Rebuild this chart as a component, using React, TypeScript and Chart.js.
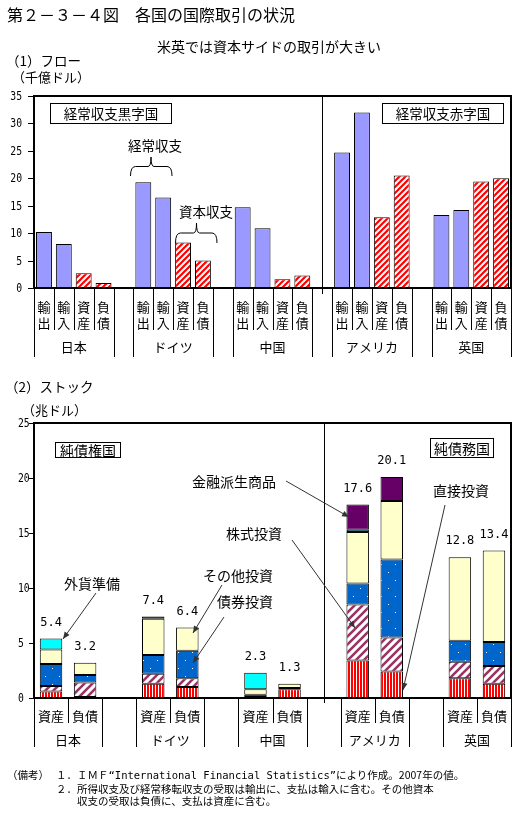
import React, { useEffect, useRef } from 'react';
import { Chart, registerables } from 'chart.js';
Chart.register(...registerables);

const W = 519;
const H = 823;
const JP = '"Noto Sans CJK JP", sans-serif';
const MONO = '"DejaVu Sans Mono", monospace';

// ---------- (1) Flow (千億ドル) ----------
const countries = ['日本', 'ドイツ', '中国', 'アメリカ', '英国'];
const flowItemChars = [['輸', '出'], ['輸', '入'], ['資', '産'], ['負', '債']];
const flowExports = [10.2, 19.3, 14.7, 24.7, 13.3];
const flowImports = [8.0, 16.5, 10.9, 32.0, 14.2];
const flowAssets = [2.7, 8.3, 1.6, 12.9, 19.4];
const flowLiabilities = [0.9, 5.0, 2.3, 20.5, 20.0];
const flowTicks = [0, 5, 10, 15, 20, 25, 30, 35];

// ---------- (2) Stock (兆ドル) ----------
const stockItems = ['資産', '負債'];
// order: 日本資産, 日本負債, ドイツ資産, ドイツ負債, 中国資産, 中国負債, アメリカ資産, アメリカ負債, 英国資産, 英国負債
const directInvestment = [0.6, 0.1, 1.3, 1.0, 0.1, 0.8, 3.4, 2.4, 1.8, 1.3];
const equityInvestment = [0.5, 1.3, 0.9, 0.8, 0.0, 0.1, 5.1, 3.1, 1.5, 1.6];
const bondInvestment = [2.0, 0.7, 1.7, 2.5, 0.2, 0.0, 1.9, 7.1, 1.9, 2.2];
const otherInvestment = [1.3, 1.1, 3.3, 2.1, 0.5, 0.4, 4.7, 5.3, 7.6, 8.3];
const reserveAssets = [1.0, 0, 0, 0, 1.5, 0, 0.2, 0, 0, 0];
const derivatives = [0, 0, 0.2, 0, 0, 0, 2.3, 2.2, 0, 0];
const stockTicks = [0, 5, 10, 15, 20, 25];

// ---------- build category tables ----------
const flowLabels: string[] = [];
const flowValues: (number | null)[] = [];
const flowKinds: number[] = [];
countries.forEach((c, i) => {
  const vals = [flowExports[i], flowImports[i], flowAssets[i], flowLiabilities[i]];
  vals.forEach((v, k) => {
    flowLabels.push(c + flowItemChars[k].join(''));
    flowValues.push(v);
    flowKinds.push(k);
  });
  if (i < countries.length - 1) {
    flowLabels.push('');
    flowValues.push(null);
    flowKinds.push(-1);
  }
});

const stockLabels: string[] = [];
const stockIndex: number[] = []; // index into the stock arrays, -1 = gap
countries.forEach((c, i) => {
  stockItems.forEach((it, k) => {
    stockLabels.push(c + it);
    stockIndex.push(i * 2 + k);
  });
  if (i < countries.length - 1) {
    stockLabels.push('');
    stockIndex.push(-1);
  }
});
const spread = (arr: number[]) => stockIndex.map((j) => (j < 0 || !arr[j] ? null : arr[j]));

// ---------- drawing helpers ----------
function seg(ctx: any, x1: number, y1: number, x2: number, y2: number, w = 1, color = '#000') {
  ctx.beginPath();
  ctx.lineWidth = w;
  ctx.strokeStyle = color;
  ctx.moveTo(x1, y1);
  ctx.lineTo(x2, y2);
  ctx.stroke();
}
function txt(ctx: any, s: string, x: number, y: number, font: string, align = 'center', sx = 1) {
  ctx.save();
  ctx.font = font;
  ctx.textAlign = align;
  ctx.textBaseline = 'middle';
  ctx.fillStyle = '#000';
  ctx.translate(x, y);
  ctx.scale(sx, 1);
  ctx.fillText(s, 0, 0);
  ctx.restore();
}
function arrow(ctx: any, x1: number, y1: number, x2: number, y2: number) {
  const col = '#333';
  seg(ctx, x1, y1, x2, y2, 1, col);
  const a = Math.atan2(y2 - y1, x2 - x1);
  const L = 7;
  const Wd = 3;
  ctx.beginPath();
  ctx.fillStyle = col;
  ctx.moveTo(x2, y2);
  ctx.lineTo(x2 - L * Math.cos(a) + Wd * Math.sin(a), y2 - L * Math.sin(a) - Wd * Math.cos(a));
  ctx.lineTo(x2 - L * Math.cos(a) - Wd * Math.sin(a), y2 - L * Math.sin(a) + Wd * Math.cos(a));
  ctx.closePath();
  ctx.fill();
}
function boxText(ctx: any, s: string, x1: number, y1: number, x2: number, y2: number, font: string) {
  ctx.save();
  ctx.fillStyle = '#fff';
  ctx.fillRect(x1, y1, x2 - x1, y2 - y1);
  ctx.lineWidth = 1;
  ctx.strokeStyle = '#000';
  ctx.strokeRect(x1 + 0.5, y1 + 0.5, x2 - x1 - 1, y2 - y1 - 1);
  ctx.restore();
  txt(ctx, s, (x1 + x2) / 2, (y1 + y2) / 2 + 0.5, font);
}
function brace(ctx: any, x0: number, x1: number, xm: number, yPeak: number, yBot: number) {
  const yMid = (yPeak + yBot) / 2;
  ctx.beginPath();
  ctx.lineWidth = 1;
  ctx.strokeStyle = '#000';
  ctx.moveTo(x0, yBot);
  ctx.quadraticCurveTo(x0, yMid, x0 + 5, yMid);
  ctx.lineTo(xm - 3, yMid);
  ctx.quadraticCurveTo(xm, yMid, xm, yPeak);
  ctx.quadraticCurveTo(xm, yMid, xm + 3, yMid);
  ctx.lineTo(x1 - 5, yMid);
  ctx.quadraticCurveTo(x1, yMid, x1, yBot);
  ctx.stroke();
}
function makePattern(w: number, h: number, draw: (g: CanvasRenderingContext2D) => void) {
  const c = document.createElement('canvas');
  c.width = w;
  c.height = h;
  const g = c.getContext('2d') as CanvasRenderingContext2D;
  draw(g);
  return g.createPattern(c, 'repeat') as CanvasPattern;
}
function diagPattern(size: number, color: string, lw: number) {
  return makePattern(size, size, (g) => {
    g.fillStyle = '#fff';
    g.fillRect(0, 0, size, size);
    g.strokeStyle = color;
    g.lineWidth = lw;
    g.beginPath();
    for (let o = -size; o <= size; o += size) {
      g.moveTo(o - 1, size + 1);
      g.lineTo(o + size + 1, -1);
    }
    g.stroke();
  });
}

const JPF = (s: number) => `${s}px ${JP}`;

// ---------- plugins ----------
const flowDeco = {
  id: 'flowDeco',
  afterDatasetsDraw(chart: any) {
    const { ctx } = chart;
    const { left, right, top, bottom } = chart.chartArea;
    const xs = chart.scales.x;
    const ys = chart.scales.y;
    ctx.save();
    const divX = Math.round(xs.getPixelForValue(14)) + 0.5;
    seg(ctx, divX, top, divX, bottom + 6, 1);
    ctx.lineWidth = 2;
    ctx.strokeStyle = '#000';
    ctx.strokeRect(left, top, right - left, bottom - top);
    flowTicks.forEach((v) => {
      const py = Math.round(ys.getPixelForValue(v)) + 0.5;
      seg(ctx, left - 6, py, left, py, 1);
      txt(ctx, String(v), left - 12, py, `13px ${MONO}`, 'right', 0.75);
    });
    countries.forEach((c, i) => {
      const s = i * 5;
      for (let k = 0; k <= 4; k++) {
        const px = Math.round(xs.getPixelForValue(s - 0.5 + k)) + 0.5;
        const long = k === 0 || k === 4;
        seg(ctx, px, bottom, px, bottom + (long ? 69 : 42), 1);
      }
      flowItemChars.forEach((chs, k) => {
        const px = xs.getPixelForValue(s + k);
        txt(ctx, chs[0], px, bottom + 19, JPF(13));
        txt(ctx, chs[1], px, bottom + 35, JPF(13));
      });
      txt(ctx, c, xs.getPixelForValue(s + 1.5), bottom + 59, JPF(13));
    });
    boxText(ctx, '経常収支黒字国', 50, 103, 172, 124, JPF(13.5));
    boxText(ctx, '経常収支赤字国', 382, 103, 504, 124, JPF(13.5));
    txt(ctx, '経常収支', 155, 146, JPF(13.5));
    brace(ctx, 130.5, 172, 151, 157, 176);
    txt(ctx, '資本収支', 206, 212, JPF(13.5));
    brace(ctx, 175.5, 217, 196.5, 223, 243);
    ctx.restore();
  },
};

const stockDeco = {
  id: 'stockDeco',
  afterDatasetsDraw(chart: any) {
    const { ctx } = chart;
    const { left, right, top, bottom } = chart.chartArea;
    const xs = chart.scales.x;
    const ys = chart.scales.y;
    ctx.save();
    const divX = Math.round(xs.getPixelForValue(8)) + 0.5;
    seg(ctx, divX, top, divX, bottom + 5, 1);
    ctx.lineWidth = 2;
    ctx.strokeStyle = '#000';
    ctx.strokeRect(left, top, right - left, bottom - top);
    stockTicks.forEach((v) => {
      const py = Math.round(ys.getPixelForValue(v)) + 0.5;
      seg(ctx, left - 5, py, left, py, 1);
      txt(ctx, String(v), 18, py, `13px ${MONO}`, 'left', 0.75);
    });
    countries.forEach((c, i) => {
      const s = i * 3;
      for (let k = 0; k <= 2; k++) {
        const px = Math.round(xs.getPixelForValue(s - 0.5 + k)) + 0.5;
        const long = k === 0 || k === 2;
        seg(ctx, px, bottom, px, bottom + (long ? 49 : 25), 1);
      }
      stockItems.forEach((it, k) => {
        txt(ctx, it, xs.getPixelForValue(s + k), bottom + 18, JPF(13));
      });
      txt(ctx, c, xs.getPixelForValue(s + 0.5), bottom + 42, JPF(13));
    });
    // totals above bars
    stockIndex.forEach((j, idx) => {
      if (j < 0) return;
      const tot =
        directInvestment[j] + equityInvestment[j] + bondInvestment[j] + otherInvestment[j] + reserveAssets[j] + derivatives[j];
      txt(ctx, tot.toFixed(1), xs.getPixelForValue(idx), ys.getPixelForValue(tot) - 16, `12px ${MONO}`);
    });
    boxText(ctx, '純債権国', 55, 442, 121, 458, JPF(14));
    boxText(ctx, '純債務国', 430, 438, 494, 458, JPF(14));
    txt(ctx, '外貨準備', 92, 584, JPF(14));
    arrow(ctx, 96, 593, 63, 639);
    txt(ctx, 'その他投資', 238, 576, JPF(14));
    arrow(ctx, 222, 585, 193, 633);
    txt(ctx, '債券投資', 245, 602, JPF(14));
    arrow(ctx, 224, 617, 193, 663);
    txt(ctx, '金融派生商品', 234, 482, JPF(14));
    arrow(ctx, 286, 481, 349, 517);
    txt(ctx, '株式投資', 254, 534, JPF(14));
    arrow(ctx, 292, 540, 355, 628);
    txt(ctx, '直接投資', 461, 491, JPF(14));
    arrow(ctx, 445, 505, 403, 690);
    ctx.restore();
  },
};

function Txt(props: { x: number; cy: number; size: number; children: any; w?: number; family?: string }) {
  const { x, cy, size, children, w, family } = props;
  return (
    <div
      style={{
        position: 'absolute',
        left: x,
        top: cy - size * 0.556,
        fontSize: size,
        lineHeight: `${size}px`,
        whiteSpace: 'nowrap',
        width: w,
        textAlign: w ? 'center' : 'left',
        fontFamily: family || JP,
      }}
    >
      {children}
    </div>
  );
}

export default function App() {
  const flowRef = useRef<HTMLCanvasElement>(null);
  const stockRef = useRef<HTMLCanvasElement>(null);

  useEffect(() => {
    const redDiag = diagPattern(6, '#FF0000', 2.2);
    const maroonDiag = diagPattern(8, '#993366', 2.6);
    const redVert = makePattern(3, 1, (g) => {
      g.fillStyle = '#fff';
      g.fillRect(0, 0, 3, 1);
      g.fillStyle = '#FF0000';
      g.fillRect(0, 0, 2, 1);
    });
    const blueDots = makePattern(14, 16, (g) => {
      g.fillStyle = '#0066CC';
      g.fillRect(0, 0, 14, 16);
      g.fillStyle = '#fff';
      g.fillRect(3, 4, 1, 1);
      g.fillRect(10, 12, 1, 1);
    });

    const common = {
      responsive: false,
      animation: false as const,
      events: [] as any[],
      plugins: { legend: { display: false }, tooltip: { enabled: false }, title: { display: false } },
    };

    const c1 = new Chart(flowRef.current as HTMLCanvasElement, {
      type: 'bar',
      data: {
        labels: flowLabels,
        datasets: [
          {
            data: flowValues as any,
            backgroundColor: flowKinds.map((k) => (k < 0 ? 'rgba(0,0,0,0)' : k < 2 ? '#9999FF' : redDiag)) as any,
            borderColor: '#000',
            borderWidth: 1,
            borderSkipped: false,
            barPercentage: 0.8,
            categoryPercentage: 1,
          },
        ],
      },
      options: {
        ...common,
        layout: { padding: { left: 34, right: W - 511, top: 96, bottom: H - 288 } },
        scales: {
          x: { display: false, offset: true },
          y: { display: false, min: 0, max: 35 },
        },
      } as any,
      plugins: [flowDeco],
    });

    const mk = (label: string, arr: number[], bg: any) => ({
      label,
      data: spread(arr) as any,
      backgroundColor: bg,
      borderColor: '#000',
      borderWidth: 1,
      borderSkipped: false,
      barPercentage: 0.66,
      categoryPercentage: 1,
    });

    const c2 = new Chart(stockRef.current as HTMLCanvasElement, {
      type: 'bar',
      data: {
        labels: stockLabels,
        datasets: [
          mk('直接投資', directInvestment, redVert),
          mk('株式投資', equityInvestment, maroonDiag),
          mk('債券投資', bondInvestment, blueDots),
          mk('その他投資', otherInvestment, '#FFFFCC'),
          mk('外貨準備', reserveAssets, '#00FFFF'),
          mk('金融派生商品', derivatives, '#660066'),
        ],
      },
      options: {
        ...common,
        layout: { padding: { left: 34, right: W - 511, top: 423, bottom: H - 698 } },
        scales: {
          x: { display: false, offset: true, stacked: true },
          y: { display: false, min: 0, max: 25, stacked: true },
        },
      } as any,
      plugins: [stockDeco],
    });

    return () => {
      c1.destroy();
      c2.destroy();
    };
  }, []);

  return (
    <div
      style={{
        position: 'absolute',
        left: 0,
        top: 0,
        width: W,
        height: H,
        background: '#fff',
        overflow: 'hidden',
        fontFamily: JP,
        color: '#000',
      }}
    >
      <canvas ref={flowRef} width={W} height={H} style={{ position: 'absolute', left: 0, top: 0 }} />
      <canvas ref={stockRef} width={W} height={H} style={{ position: 'absolute', left: 0, top: 0 }} />
      <Txt x={7} cy={15} size={16}>第２－３－４図　各国の国際取引の状況</Txt>
      <Txt x={157} cy={46.5} size={14} w={200}>米英では資本サイドの取引が大きい</Txt>
      <Txt x={6} cy={61.5} size={13.5}>（1）フロー</Txt>
      <Txt x={12} cy={77.5} size={13}>（千億ドル）</Txt>
      <Txt x={5} cy={387.5} size={13.5}>（2）ストック</Txt>
      <Txt x={22} cy={410} size={13}>（兆ドル）</Txt>
      <Txt x={7} cy={776} size={10.5}>（備考）</Txt>
      <Txt x={56} cy={776} size={10.5}>
        １．ＩＭＦ<span style={{ fontFamily: MONO }}>“International Financial Statistics”</span>により作成。2007年の値。
      </Txt>
      <Txt x={56} cy={789.5} size={10.5}>２．所得収支及び経常移転収支の受取は輸出に、支払は輸入に含む。その他資本</Txt>
      <Txt x={77} cy={802} size={10.5}>収支の受取は負債に、支払は資産に含む。</Txt>
    </div>
  );
}
